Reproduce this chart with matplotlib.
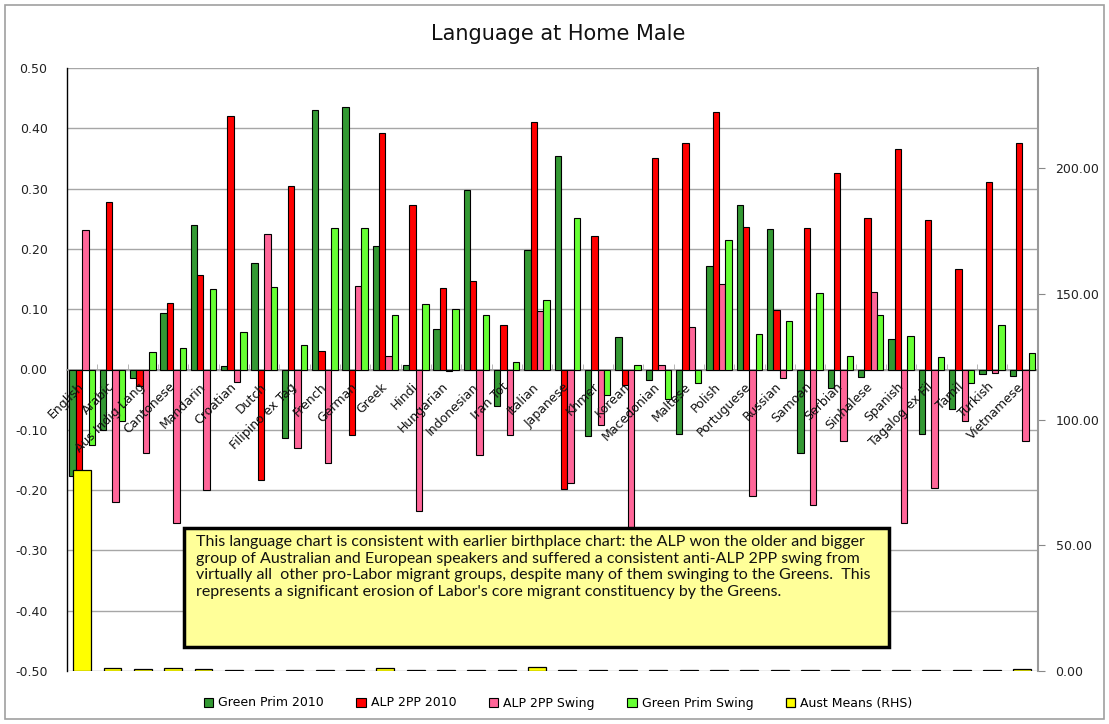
import matplotlib
matplotlib.use("Agg")
import matplotlib.pyplot as plt
import numpy as np
from matplotlib.patches import Rectangle

categories = ["English", "Arabic", "Aus Indig Lang", "Cantonese", "Mandarin", "Croatian",
              "Dutch", "Filipino ex Tag", "French", "German", "Greek", "Hindi", "Hungarian",
              "Indonesian", "Iran Tot", "Italian", "Japanese", "Khmer", "Korean", "Macedonian",
              "Maltese", "Polish", "Portuguese", "Russian", "Samoan", "Serbian", "Sinhalese",
              "Spanish", "Tagalog ex Fil", "Tamil", "Turkish", "Vietnamese"]

green_prim_2010 = [-0.176, -0.100, -0.014, 0.093, 0.240, 0.005, 0.177, -0.113, 0.431, 0.435,
                   0.204, 0.007, 0.067, 0.298, -0.061, 0.199, 0.354, -0.110, 0.054, -0.018,
                   -0.107, 0.171, 0.272, 0.233, -0.139, -0.031, -0.012, 0.050, -0.107, -0.065,
                   -0.008, -0.010]
alp_2pp_2010 = [-0.200, 0.277, -0.027, 0.111, 0.156, 0.421, -0.184, 0.305, 0.030, -0.109,
                0.393, 0.272, 0.135, 0.147, 0.074, 0.410, -0.199, 0.221, -0.025, 0.350,
                0.375, 0.427, 0.237, 0.099, 0.235, 0.326, 0.251, 0.366, 0.248, 0.167,
                0.311, 0.376]
alp_2pp_swing = [0.232, -0.219, -0.138, -0.254, -0.200, -0.021, 0.224, -0.131, -0.155, 0.139,
                 0.022, -0.234, -0.002, -0.141, -0.109, 0.097, -0.188, -0.092, -0.320, 0.008,
                 0.070, 0.141, -0.209, -0.014, -0.225, -0.118, 0.128, -0.254, -0.196, -0.086,
                 -0.006, -0.118]
green_prim_swing = [-0.126, -0.086, 0.029, 0.035, 0.133, 0.063, 0.136, 0.040, 0.234, 0.234,
                    0.090, 0.108, 0.101, 0.090, 0.012, 0.115, 0.251, -0.042, 0.008, -0.049,
                    -0.023, 0.214, 0.059, 0.080, 0.127, 0.022, 0.091, 0.055, 0.020, -0.023,
                    0.074, 0.028]
aust_means = [80.0, 1.3, 0.9, 1.3, 0.9, 0.3, 0.3, 0.3, 0.3, 0.3, 1.3, 0.3, 0.3, 0.3, 0.3, 1.7,
              0.3, 0.3, 0.3, 0.3, 0.3, 0.3, 0.3, 0.3, 0.3, 0.3, 0.3, 0.3, 0.3, 0.3, 0.3, 0.8]

left_ticks = [-0.5, -0.4, -0.3, -0.2, -0.1, 0.0, 0.1, 0.2, 0.3, 0.4, 0.5]
right_ticks = [0, 50, 100, 150, 200]

series_names = ["Green Prim 2010", "ALP 2PP 2010", "ALP 2PP Swing", "Green Prim Swing",
                "Aust Means (RHS)"]
colors = ["#339933", "#FF0000", "#FF6699", "#66FF33", "#FFFF00"]

note = ("This language chart is consistent with earlier birthplace chart: the ALP won the older and bigger\n"
        "group of Australian and European speakers and suffered a consistent anti-ALP 2PP swing from\n"
        "virtually all  other pro-Labor migrant groups, despite many of them swinging to the Greens.  This\n"
        "represents a significant erosion of Labor's core migrant constituency by the Greens.")

W, H = 1109, 724
fig = plt.figure(figsize=(W / 100, H / 100), dpi=100)
fig.patch.set_facecolor("white")

L, R, T, B = 67, 1037.5, 68, 671
ax = fig.add_axes([L / W, 1 - B / H, (R - L) / W, (B - T) / H])
ax2 = ax.twinx()

x = np.arange(len(categories))
bw = 0.21
offsets = [-1.5 * bw, -0.5 * bw, 0.5 * bw, 1.5 * bw]
handles = []
for data, off, c, name in zip([green_prim_2010, alp_2pp_2010, alp_2pp_swing, green_prim_swing],
                              offsets, colors[:4], series_names[:4]):
    h = ax.bar(x + off, data, bw, color=c, edgecolor="black", linewidth=0.8, label=name, zorder=3)
    handles.append(h)

hy = ax2.bar(x, aust_means, 0.59, color=colors[4], edgecolor="black", linewidth=0.9,
             label=series_names[4], zorder=3)
handles.append(hy)

ax.set_xlim(-0.5, len(categories) - 0.5)
ax.set_ylim(-0.5, 0.5)
ax2.set_ylim(0, 240)

ax.set_yticks(left_ticks)
ax.set_yticklabels([f"{abs(v):.2f}" if v == 0 else f"{v:.2f}" for v in left_ticks])
ax.yaxis.grid(True, color="#A6A6A6", linewidth=1.0)
ax.set_axisbelow(True)
ax.tick_params(axis="y", length=0, pad=14, labelsize=9, labelcolor="#222222")

ax2.set_yticks(right_ticks)
ax2.set_yticklabels([f"{v:.2f}" for v in right_ticks])
ax2.tick_params(axis="y", length=5, color="#888888", pad=8, labelsize=9, labelcolor="#222222")

ax.spines["bottom"].set_position(("data", 0))
ax.spines["bottom"].set_color("#999999")
ax.spines["bottom"].set_linewidth(1.2)
ax.spines["top"].set_visible(False)
ax.spines["right"].set_visible(False)
ax.spines["left"].set_color("black")
ax.spines["left"].set_linewidth(1.0)
for s in ["top", "left", "bottom"]:
    ax2.spines[s].set_visible(False)
ax2.spines["right"].set_color("#999999")
ax2.spines["right"].set_linewidth(1.5)

ax.set_xticks(x)
ax.set_xticklabels(categories, rotation=45, ha="right", va="center", rotation_mode="anchor",
                   fontsize=9, color="#111111")
ax.tick_params(axis="x", length=0, pad=11)
ax.set_xticks(np.arange(0.5, len(categories) - 0.5, 1), minor=True)
ax.tick_params(axis="x", which="minor", direction="in", length=4, color="#AAAAAA")
ax.xaxis.set_zorder(5)

fig.text(558 / W, 1 - 34 / H, "Language at Home Male", ha="center", va="center", fontsize=15,
         color="#111111")

# note box
bx0, bx1, by0, by1 = 184, 889, 528, 647
fig.add_artist(Rectangle((bx0 / W, 1 - by1 / H), (bx1 - bx0) / W, (by1 - by0) / H,
                         transform=fig.transFigure, facecolor="#FFFF99", edgecolor="black",
                         linewidth=2.5, zorder=10))
fig.text(196 / W, 1 - 535 / H, note, ha="left", va="top", fontsize=11.5, family="Lato",
         linespacing=1.25, color="#111111", zorder=11)

fig.legend(handles=handles, labels=series_names, loc="center", bbox_to_anchor=(558 / W, 1 - 703 / H),
           ncol=5, frameon=False, fontsize=9, handlelength=0.75, handleheight=0.75,
           handletextpad=0.4, columnspacing=2.6)

# outer chart border
fig.add_artist(Rectangle((5 / W, 5 / H), (W - 10) / W, (H - 10) / H, transform=fig.transFigure,
                         facecolor="none", edgecolor="#A0A0A0", linewidth=1.2, zorder=12))

fig.savefig("out.png", dpi=100)
